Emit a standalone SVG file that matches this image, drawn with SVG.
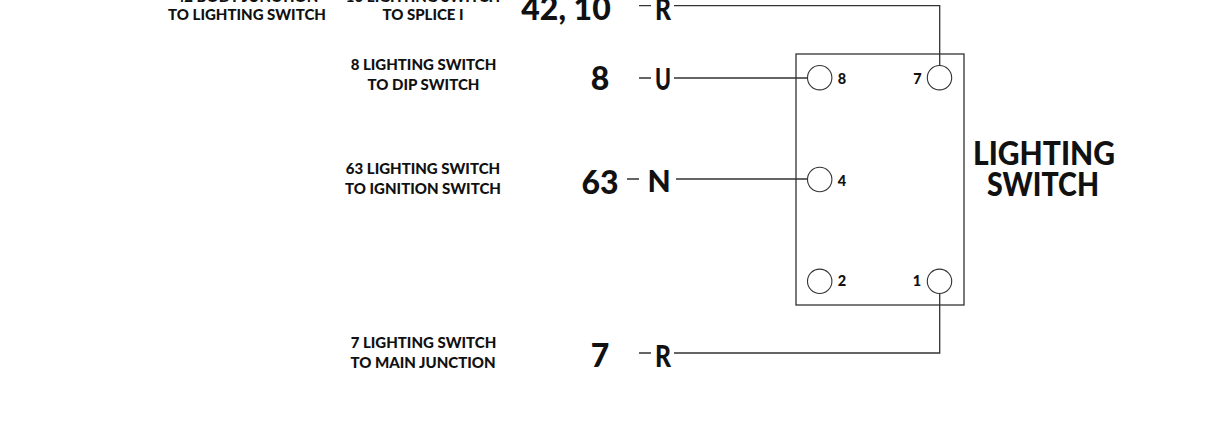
<svg xmlns="http://www.w3.org/2000/svg" width="1212" height="432" viewBox="0 0 1212 432">
<style>
text{font-family:"Lato","Liberation Sans",sans-serif;font-weight:900;fill:#111;text-anchor:middle}
.s{font-size:15px}
.b{font-size:32px}
.w{font-size:30px}
.p{font-size:14.5px}
.t{font-size:32px}
.l{fill:none;stroke:#333;stroke-width:1.3}
.c{fill:#fff;stroke:#333;stroke-width:1.1}
</style>
<rect width="1212" height="432" fill="#fff"/>
<g id="connectors">
<path class="l" d="M639 5.7H651M674 5.7H939.7V66"/>
<path class="l" d="M639 78H651M674 78H808"/>
<path class="l" d="M627 179H639M676 179H808"/>
<path class="l" d="M639 353H651M674 353H939.7V293"/>
</g>
<g id="lighting-switch">
<rect x="796" y="54" width="168" height="251" fill="none" stroke="#333" stroke-width="1.3"/>
<text class="t" x="1044" y="165" textLength="142" lengthAdjust="spacingAndGlyphs">LIGHTING</text>
<text class="t" x="1043" y="196" textLength="112" lengthAdjust="spacingAndGlyphs">SWITCH</text>
</g>
<g id="pin-8"><circle class="c" cx="819.7" cy="77.7" r="12.2"/><text class="p" x="842" y="83.5">8</text></g>
<g id="pin-7"><circle class="c" cx="939.5" cy="77.7" r="12.2"/><text class="p" x="917.5" y="83.5">7</text></g>
<g id="pin-4"><circle class="c" cx="819.7" cy="179.5" r="12.2"/><text class="p" x="842" y="185.5">4</text></g>
<g id="pin-2"><circle class="c" cx="819.7" cy="281.3" r="12.2"/><text class="p" x="842" y="285.5">2</text></g>
<g id="pin-1"><circle class="c" cx="939.5" cy="281.3" r="12.2"/><text class="p" x="917" y="285.5">1</text></g>
<g id="wire-42-10">
<text class="s" x="247" y="1.5">42 BODY JUNCTION</text>
<text class="s" x="247" y="20">TO LIGHTING SWITCH</text>
<text class="s" x="423" y="1.5">10 LIGHTING SWITCH</text>
<text class="s" x="423" y="20">TO SPLICE I</text>
<text class="b" x="566" y="20">42, 10</text>
<text class="w" x="663" y="20" textLength="16" lengthAdjust="spacingAndGlyphs">R</text>
</g>
<g id="wire-8">
<text class="s" x="423.5" y="70">8 LIGHTING SWITCH</text>
<text class="s" x="423.5" y="90">TO DIP SWITCH</text>
<text class="b" x="600" y="90">8</text>
<text class="w" x="663" y="90" textLength="16" lengthAdjust="spacingAndGlyphs">U</text>
</g>
<g id="wire-63">
<text class="s" x="423" y="174">63 LIGHTING SWITCH</text>
<text class="s" x="423" y="194">TO IGNITION SWITCH</text>
<text class="b" x="600" y="194">63</text>
<text class="w" x="659" y="191.5">N</text>
</g>
<g id="wire-7">
<text class="s" x="423.5" y="348">7 LIGHTING SWITCH</text>
<text class="s" x="423" y="368">TO MAIN JUNCTION</text>
<text class="b" x="600" y="367">7</text>
<text class="w" x="663" y="367" textLength="16" lengthAdjust="spacingAndGlyphs">R</text>
</g>
</svg>
